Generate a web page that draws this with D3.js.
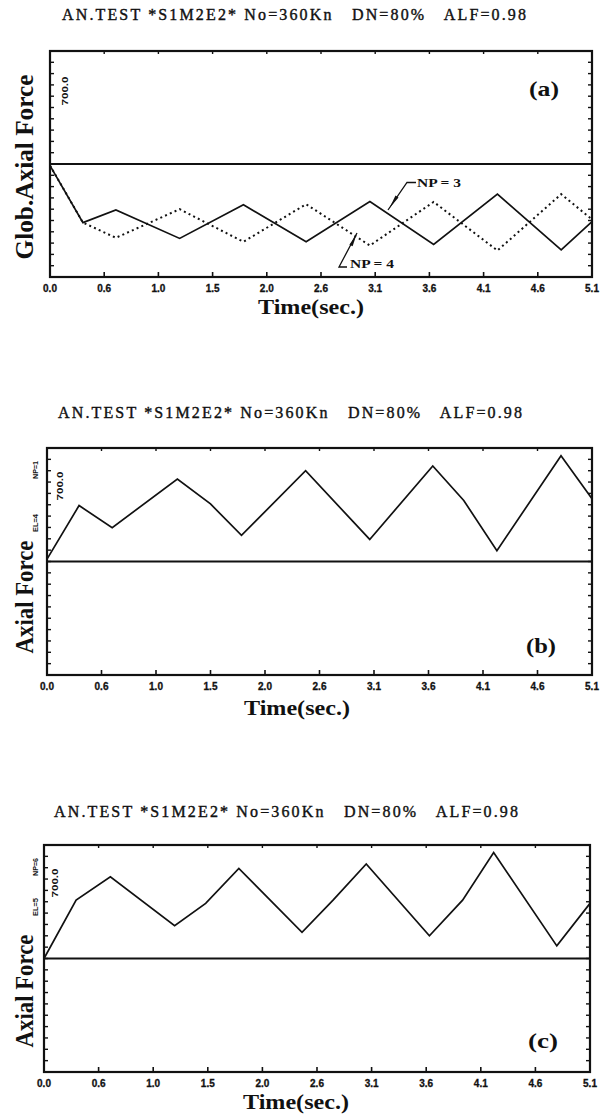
<!DOCTYPE html>
<html>
<head>
<meta charset="utf-8">
<script src="https://cdnjs.cloudflare.com/ajax/libs/d3/7.8.5/d3.min.js"></script>
<style>
  body { margin: 0; background: #fff; }
  svg { display: block; }
  text { fill: #111; }
</style>
</head>
<body>
<script>
// values
const titleText = "AN.TEST *S1M2E2* No=360Kn   DN=80%   ALF=0.98";
const tickLabels = ["0.0", "0.6", "1.0", "1.5", "2.0", "2.6", "3.1", "3.6", "4.1", "4.6", "5.1"];
const tMax = 5.1;
const fMax = 700;

// panel (a) - global axial force, NP = 3 (solid) and NP = 4 (dotted)
const globNp3 = [[0, -10], [0.31, -363], [0.62, -285], [1.22, -461], [1.82, -253], [2.41, -482],
                 [3.01, -233], [3.61, -498], [4.21, -187], [4.81, -532], [5.1, -357]];
const globNp4 = [[0, -10], [0.31, -363], [0.62, -457], [1.22, -280], [1.82, -482], [2.41, -249],
                 [3.01, -505], [3.61, -235], [4.21, -536], [4.81, -187], [5.1, -343]];
// panel (b) - EL=4 NP=1
const el4Np1 = [[0, 15], [0.30, 345], [0.61, 209], [1.22, 508], [1.53, 355], [1.82, 161], [2.42, 560],
                [3.02, 136], [3.61, 589], [3.90, 376], [4.21, 67], [4.81, 652], [5.1, 387]];
// panel (c) - EL=5 NP=6
const el5Np6 = [[0, 0], [0.30, 360], [0.62, 504], [1.22, 202], [1.51, 340], [1.82, 556], [2.41, 161],
                [2.70, 360], [3.01, 583], [3.60, 140], [3.91, 360], [4.20, 653], [4.79, 78], [5.1, 340]];

const W = 606, H = 1116;
const svg = d3.select("body").append("svg").attr("width", W).attr("height", H);

const serif = "'Liberation Serif', 'Times New Roman', serif";
const sans = "'Liberation Sans', Arial, sans-serif";

const panels = [
  {id: "(a)", left: 50, right: 592, top: 51, bottom: 277, titleX: 62, titleY: 20,
   ylabel: "Glob.Axial Force", ylabX: 33, ylabY: 167, ylabLen: 185, sub: null,
   vx: 68, vy: 91, timeX: 311, timeY: 307, tagX: 544, tagY: 89,
   series: [{d: globNp3, dash: null}, {d: globNp4, dash: "2,3.2"}]},
  {id: "(b)", left: 47, right: 592, top: 448, bottom: 675, titleX: 58, titleY: 418,
   ylabel: "Axial Force", ylabX: 33, ylabY: 597, ylabLen: 113, sub: ["EL=4", "NP=1"], subY: [523, 470],
   vx: 63, vy: 486, timeX: 297, timeY: 708, tagX: 541, tagY: 646,
   series: [{d: el4Np1, dash: null}]},
  {id: "(c)", left: 44, right: 590, top: 845, bottom: 1072, titleX: 54, titleY: 817,
   ylabel: "Axial Force", ylabX: 33, ylabY: 991, ylabLen: 113, sub: ["EL=5", "NP=6"], subY: [907, 867],
   vx: 58, vy: 883, timeX: 296, timeY: 1102, tagX: 543, tagY: 1041,
   series: [{d: el5Np6, dash: null}]}
];

panels.forEach(p => {
  const g = svg.append("g");
  const x = d3.scaleLinear().domain([0, tMax]).range([p.left, p.right]);
  const y = d3.scaleLinear().domain([-fMax, fMax]).range([p.bottom, p.top]);

  // title
  g.append("text")
    .attr("x", p.titleX).attr("y", p.titleY)
    .attr("textLength", 464).attr("lengthAdjust", "spacing")
    .style("white-space", "pre")
    .style("font-family", serif).style("font-size", "16px")
    .style("stroke", "#111").style("stroke-width", 0.4)
    .text(titleText);

  // x ticks (bottom and top, inside)
  const xt = tickLabels.map((l, i) => ({l: l, v: i * tMax / (tickLabels.length - 1)}));
  g.selectAll(".xb").data(xt).enter().append("line")
    .attr("x1", d => x(d.v)).attr("x2", d => x(d.v))
    .attr("y1", p.bottom).attr("y2", p.bottom - 5)
    .attr("stroke", "#111").attr("stroke-width", 1.6);
  g.selectAll(".xt").data(xt).enter().append("line")
    .attr("x1", d => x(d.v)).attr("x2", d => x(d.v))
    .attr("y1", p.top).attr("y2", p.top + 3)
    .attr("stroke", "#111").attr("stroke-width", 1.4);
  g.selectAll(".xl").data(xt).enter().append("text")
    .attr("x", d => x(d.v)).attr("y", p.bottom + 15)
    .attr("text-anchor", "middle")
    .style("font-family", sans).style("font-weight", "bold").style("font-size", "10px")
    .style("stroke", "#111").style("stroke-width", 0.3)
    .text(d => d.l);

  // y ticks, left and right, inside
  const yt = d3.range(-fMax, fMax + 1, fMax / 10);
  [p.left, p.right].forEach((xx, k) => {
    g.selectAll(".yt" + k).data(yt).enter().append("line")
      .attr("x1", xx).attr("x2", k === 0 ? xx + 4 : xx - 4)
      .attr("y1", d => y(d)).attr("y2", d => y(d))
      .attr("stroke", "#111").attr("stroke-width", 1.4);
  });

  // frame and zero line
  g.append("rect")
    .attr("x", p.left).attr("y", p.top)
    .attr("width", p.right - p.left).attr("height", p.bottom - p.top)
    .attr("fill", "none").attr("stroke", "#111").attr("stroke-width", 2.2);
  g.append("line")
    .attr("x1", p.left).attr("x2", p.right).attr("y1", y(0)).attr("y2", y(0))
    .attr("stroke", "#111").attr("stroke-width", 2);

  // curves
  const line = d3.line().x(d => x(d[0])).y(d => y(d[1]));
  p.series.forEach(s => {
    g.append("path").datum(s.d)
      .attr("d", line)
      .attr("fill", "none").attr("stroke", "#111")
      .attr("stroke-width", s.dash ? 2 : 1.7)
      .attr("stroke-dasharray", s.dash)
      .attr("stroke-linejoin", "miter");
  });

  // y axis label
  g.append("text")
    .attr("transform", `translate(${p.ylabX},${p.ylabY}) rotate(-90)`)
    .attr("text-anchor", "middle")
    .attr("textLength", p.ylabLen).attr("lengthAdjust", "spacingAndGlyphs")
    .style("font-family", serif).style("font-weight", "bold").style("font-size", "26px")
    .text(p.ylabel);
  if (p.sub) {
    p.sub.forEach((s, i) => {
      g.append("text")
        .attr("transform", `translate(38,${p.subY[i]}) rotate(-90)`)
        .attr("text-anchor", "middle")
        .attr("textLength", 18).attr("lengthAdjust", "spacingAndGlyphs")
        .style("font-family", sans).style("font-weight", "bold").style("font-size", "8px")
        .text(s);
    });
  }

  // scale value
  g.append("text")
    .attr("transform", `translate(${p.vx},${p.vy}) rotate(-90)`)
    .attr("text-anchor", "middle")
    .attr("textLength", 29).attr("lengthAdjust", "spacingAndGlyphs")
    .style("font-family", sans).style("font-weight", "bold").style("font-size", "9px")
    .text(fMax.toFixed(1));

  // axis title
  g.append("text")
    .attr("x", p.timeX).attr("y", p.timeY + 7)
    .attr("text-anchor", "middle")
    .attr("textLength", 106).attr("lengthAdjust", "spacingAndGlyphs")
    .style("font-family", serif).style("font-weight", "bold").style("font-size", "22px")
    .text("Time(sec.)");

  // panel tag
  g.append("text")
    .attr("x", p.tagX).attr("y", p.tagY + 7)
    .attr("text-anchor", "middle")
    .attr("textLength", 30).attr("lengthAdjust", "spacingAndGlyphs")
    .style("font-family", serif).style("font-weight", "bold").style("font-size", "22px")
    .text(p.id);

  if (p.id === "(a)") {
    // NP call-outs
    const lab = [
      {t: "NP = 3", tx: 417, ty: 187, path: [[416, 182.5], [407, 182.5], [388, 210]], tip: [389.5, 208], base: [397, 196.5]},
      {t: "NP = 4", tx: 350, ty: 268, path: [[347, 267], [339, 267], [357, 233]], tip: [356.5, 234.5], base: [351, 245.5]}
    ];
    lab.forEach(l => {
      g.append("path").attr("d", d3.line()(l.path))
        .attr("fill", "none").attr("stroke", "#111").attr("stroke-width", 1.3);
      const dx = l.base[0] - l.tip[0], dy = l.base[1] - l.tip[1];
      const n = Math.hypot(dx, dy), px = -dy / n * 1.8, py = dx / n * 1.8;
      g.append("path")
        .attr("d", d3.line()([l.tip, [l.base[0] + px, l.base[1] + py], [l.base[0] - px, l.base[1] - py]]) + "Z")
        .attr("fill", "#111");
      g.append("text").attr("x", l.tx).attr("y", l.ty)
        .attr("textLength", 44).attr("lengthAdjust", "spacingAndGlyphs")
        .style("white-space", "pre")
        .style("font-family", serif).style("font-weight", "bold").style("font-size", "12px")
        .text(l.t);
    });
  }
});
</script>
</body>
</html>
